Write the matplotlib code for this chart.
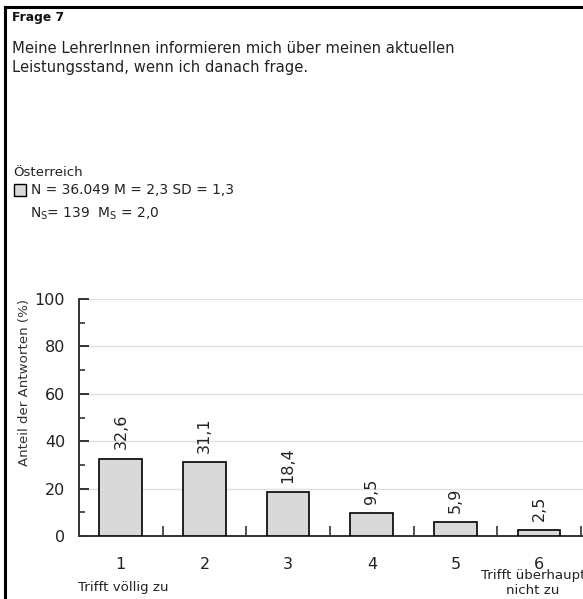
import matplotlib
matplotlib.use("Agg")
import matplotlib.pyplot as plt
from matplotlib.ticker import MultipleLocator, FixedLocator
from matplotlib.lines import Line2D
from matplotlib.patches import Rectangle

plt.rcParams['font.family'] = ['DejaVu Sans']

# Antwortkategorien und Anteile in Prozent
kategorien = [1, 2, 3, 4, 5, 6]
anteile = [32.6, 31.1, 18.4, 9.5, 5.9, 2.5]
titel = "Frage 7"
frage = "Meine LehrerInnen informieren mich über meinen aktuellen\nLeistungsstand, wenn ich danach frage."
land = "Österreich"
kennwerte = "N = 36.049 M = 2,3 SD = 1,3"
schule = r"N$_\mathregular{S}$= 139  M$_\mathregular{S}$ = 2,0"

W, H = 583, 599
fig = plt.figure(figsize=(W / 100, H / 100), dpi=100)

def fx(px):
    return px / W

def fy(py):
    return 1 - py / H

# Rahmen oben und links
fig.add_artist(Line2D([fx(5), fx(583)], [fy(7), fy(7)], color='black', lw=2.2))
fig.add_artist(Line2D([fx(5), fx(5)], [fy(7), fy(599)], color='black', lw=2.2))

fig.text(fx(12), fy(18), titel, fontsize=8.8, fontweight='bold', va='center', color='#111111')
fig.text(fx(12), fy(58), frage, fontsize=10.65, va='center', linespacing=1.35, color='#222222')
fig.text(fx(13), fy(173), land, fontsize=9.6, va='center', color='#222222')
fig.add_artist(Rectangle((fx(14), fy(196)), fx(12), 12 / H, facecolor='#d9d9d9',
                         edgecolor='black', lw=1.0))
fig.text(fx(31), fy(190), kennwerte, fontsize=9.9, va='center', color='#222222')
fig.text(fx(30), fy(214), schule, fontsize=9.9, va='center', color='#222222')

ax = fig.add_axes([fx(79), 1 - 536 / H, fx(583 - 79), 237 / H])
ax.bar(kategorien, anteile, width=0.51, color='#d9d9d9', edgecolor='black', lw=1.2, zorder=3)
for k, v in zip(kategorien, anteile):
    ax.text(k, v + 4, f"{v:.1f}".replace('.', ','), rotation=90, ha='center', va='bottom',
            fontsize=11.5, color='#222222')

ax.set_xlim(0.5, 6.524)
ax.set_ylim(0, 100)
ax.yaxis.set_major_locator(MultipleLocator(20))
ax.yaxis.set_minor_locator(MultipleLocator(10))
ax.xaxis.set_major_locator(FixedLocator(kategorien))
ax.xaxis.set_minor_locator(FixedLocator([1.5, 2.5, 3.5, 4.5, 5.5, 6.5]))
ax.tick_params(axis='y', which='major', direction='in', length=7, width=1.4, pad=10,
               labelsize=11.5, color='#333333', labelcolor='#222222')
ax.tick_params(axis='y', which='minor', direction='in', length=4, width=1.2, color='#333333')
ax.tick_params(axis='x', which='major', length=0, pad=15, labelsize=11.5, labelcolor='#222222')
ax.tick_params(axis='x', which='minor', direction='in', length=7, width=1.2, color='#333333')
ax.grid(axis='y', which='major', color='#e0e0e0', lw=1.0, zorder=0)
for s in ['top', 'right']:
    ax.spines[s].set_visible(False)
for s in ['left', 'bottom']:
    ax.spines[s].set_linewidth(1.4)
    ax.spines[s].set_color('#333333')

fig.text(fx(25), fy(383), "Anteil der Antworten (%)", fontsize=9.6, rotation=90,
         ha='center', va='center', color='#333333')
fig.text(fx(123), fy(587), "Trifft völlig zu", fontsize=9.6, ha='center', va='center',
         color='#222222')
fig.text(fx(533), fy(583), "Trifft überhaupt\nnicht zu", fontsize=9.6, ha='center',
         va='center', linespacing=1.3, color='#222222')

fig.savefig("out.png", dpi=100)
